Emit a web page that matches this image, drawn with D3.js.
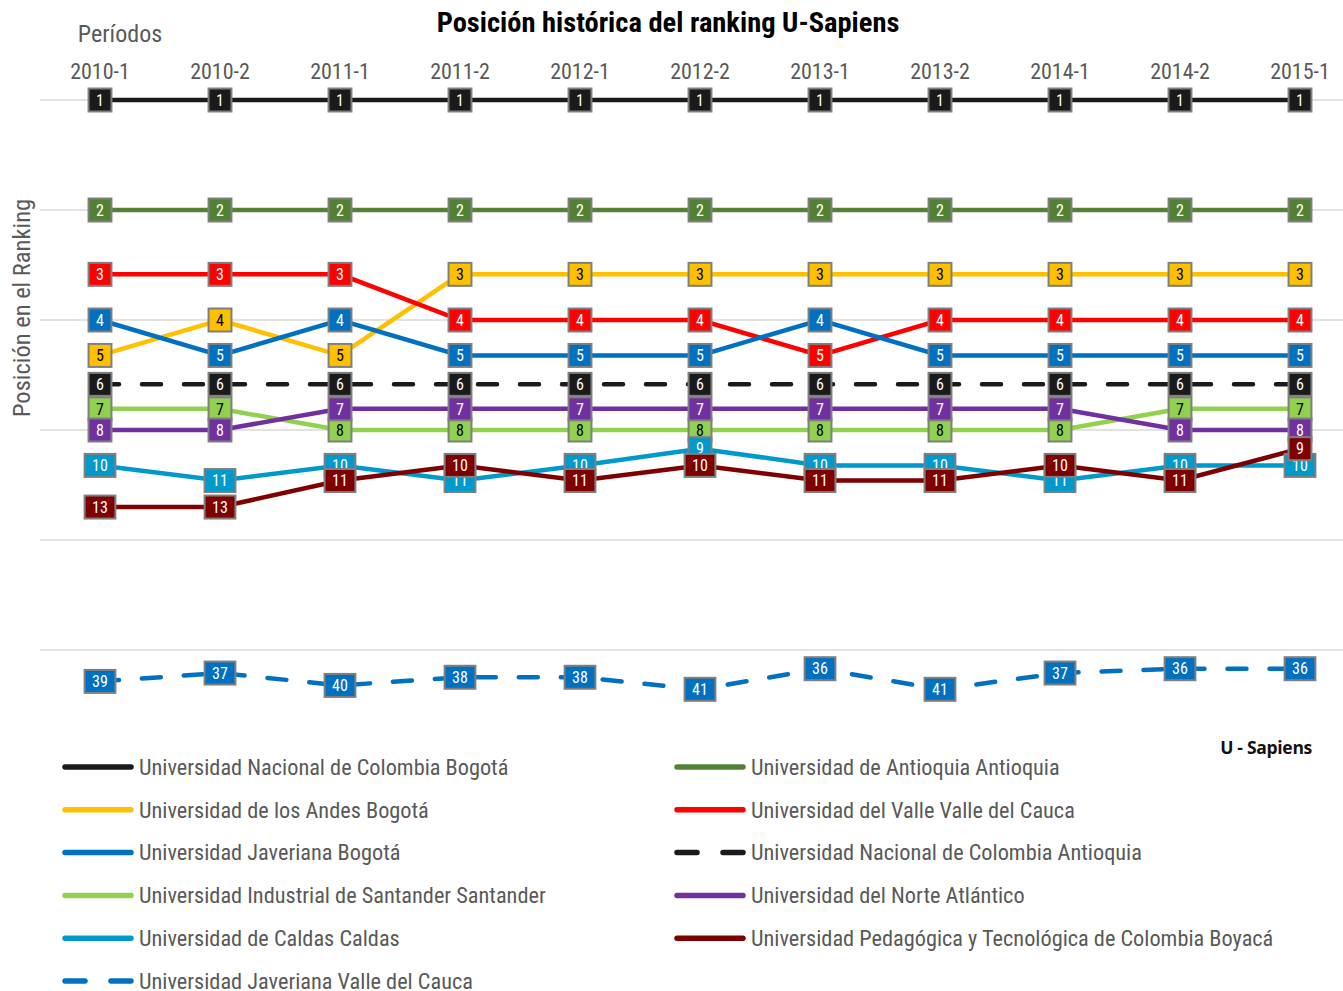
<!DOCTYPE html>
<html>
<head>
<meta charset="utf-8">
<script src="https://cdn.jsdelivr.net/npm/d3@7"></script>
<style>
  body { margin: 0; background: #fff; }
  svg text { font-family: "Liberation Sans Narrow", "Arial Narrow", "Roboto Condensed", Roboto, sans-serif; }
</style>
</head>
<body>
<div id="app"></div>
<script>
const WIDTH = 1343;
const HEIGHT = 991;

const periods = ['2010-1', '2010-2', '2011-1', '2011-2', '2012-1', '2012-2', '2013-1', '2013-2', '2014-1', '2014-2', '2015-1'];

const seriesNames = [
  'Universidad Nacional de Colombia Bogotá',
  'Universidad de Antioquia Antioquia',
  'Universidad de los Andes Bogotá',
  'Universidad del Valle Valle del Cauca',
  'Universidad Javeriana Bogotá',
  'Universidad Nacional de Colombia Antioquia',
  'Universidad Industrial de Santander Santander',
  'Universidad del Norte Atlántico',
  'Universidad de Caldas Caldas',
  'Universidad Pedagógica y Tecnológica de Colombia Boyacá',
  'Universidad Javeriana Valle del Cauca'
];

const nacionalBogota   = [1, 1, 1, 1, 1, 1, 1, 1, 1, 1, 1];
const antioquia        = [2, 2, 2, 2, 2, 2, 2, 2, 2, 2, 2];
const andes            = [5, 4, 5, 3, 3, 3, 3, 3, 3, 3, 3];
const valle            = [3, 3, 3, 4, 4, 4, 5, 4, 4, 4, 4];
const javerianaBogota  = [4, 5, 4, 5, 5, 5, 4, 5, 5, 5, 5];
const nacionalAntioquia = [6, 6, 6, 6, 6, 6, 6, 6, 6, 6, 6];
const industrial       = [7, 7, 8, 8, 8, 8, 8, 8, 8, 7, 7];
const norte            = [8, 8, 7, 7, 7, 7, 7, 7, 7, 8, 8];
const caldas           = [10, 11, 10, 11, 10, 9, 10, 10, 11, 10, 10];
const uptc             = [13, 13, 11, 10, 11, 10, 11, 11, 10, 11, 9];
const javerianaValle   = [39, 37, 40, 38, 38, 41, 36, 41, 37, 36, 36];

const seriesValues = [nacionalBogota, antioquia, andes, valle, javerianaBogota, nacionalAntioquia,
  industrial, norte, caldas, uptc, javerianaValle];
const seriesColors = ['#1a1a1a', '#548235', '#ffc000', '#ff0000', '#0070c0', '#1a1a1a',
  '#92d050', '#7030a0', '#0099cc', '#7f0000', '#0070c0'];
const labelColors = ['#fff', '#fff', '#000', '#fff', '#fff', '#fff', '#000', '#fff', '#fff', '#fff', '#fff'];
const dashed = [false, false, false, false, false, true, false, false, false, false, true];

const gridRanks = [1, 2, 4, 8, 16, 32];

const series = seriesNames.map((name, i) => ({
  name,
  values: seriesValues[i].map((v, j) => ({ period: periods[j], rank: v })),
  color: seriesColors[i],
  labelColor: labelColors[i],
  dashed: dashed[i]
}));

const svg = d3.select('#app')
  .append('svg')
    .attr('width', WIDTH)
    .attr('height', HEIGHT);

const x = d3.scaleBand()
  .domain(periods)
  .range([40, 1360]);
const cx = p => x(p) + x.bandwidth() / 2;

const y = d3.scaleLog()
  .base(2)
  .domain([1, 64])
  .range([100, 760]);

// title
svg.append('text')
  .attr('x', 668).attr('y', 32)
  .attr('text-anchor', 'middle')
  .attr('font-size', 28.5).attr('font-weight', 'bold')
  .attr('fill', '#000')
  .text('Posición histórica del ranking U-Sapiens');

svg.append('text')
  .attr('x', 120).attr('y', 42)
  .attr('text-anchor', 'middle')
  .attr('font-size', 24).attr('fill', '#595959')
  .text('Períodos');

svg.append('text')
  .attr('transform', 'translate(30, 308) rotate(-90)')
  .attr('text-anchor', 'middle')
  .attr('font-size', 24.5).attr('fill', '#595959')
  .text('Posición en el Ranking');

// gridlines
svg.append('g')
  .selectAll('line')
  .data(gridRanks)
  .enter()
    .append('line')
    .attr('x1', 40).attr('x2', 1360)
    .attr('y1', d => y(d)).attr('y2', d => y(d))
    .attr('stroke', '#d9d9d9')
    .attr('stroke-width', 1.5);

// x axis on top
const axis = d3.axisTop(x).tickSize(0).tickPadding(0);
const gAxis = svg.append('g')
  .attr('transform', 'translate(0, 79)')
  .call(axis);
gAxis.select('.domain').remove();
gAxis.selectAll('text')
  .attr('font-size', 22)
  .attr('fill', '#595959')
  .attr('font-family', null);

// lines
const line = d3.line()
  .x(d => cx(d.period))
  .y(d => y(d.rank));

svg.append('g')
  .selectAll('path')
  .data(series)
  .enter()
    .append('path')
    .attr('d', d => line(d.values))
    .attr('fill', 'none')
    .attr('stroke', d => d.color)
    .attr('stroke-width', 4.5)
    .attr('stroke-linecap', d => d.dashed ? 'round' : 'butt')
    .attr('stroke-dasharray', d => d.dashed ? '19,23' : null);

// markers (data labels with fill)
const marks = svg.append('g');
series.forEach(s => {
  s.values.forEach(v => {
    const g = marks.append('g')
      .attr('transform', `translate(${cx(v.period)}, ${y(v.rank)})`);
    const rect = g.append('rect');
    const t = g.append('text')
      .attr('text-anchor', 'middle')
      .attr('dy', '0.36em')
      .attr('font-size', 16)
      .attr('fill', s.labelColor)
      .text(v.rank);
    const w = t.node().getComputedTextLength() + 15;
    const h = 23;
    rect.attr('x', -w / 2).attr('y', -h / 2)
      .attr('width', w).attr('height', h)
      .attr('fill', s.color)
      .attr('stroke', '#7f7f7f')
      .attr('stroke-width', 2);
  });
});

// source tag
svg.append('text')
  .attr('x', 1312).attr('y', 754)
  .attr('text-anchor', 'end')
  .attr('font-size', 17.5).attr('font-weight', 'bold')
  .style('font-family', '"Open Sans", sans-serif')
  .style('letter-spacing', '-0.3px')
  .attr('fill', '#111')
  .text('U - Sapiens');

// legend
const legend = svg.append('g');
series.forEach((s, i) => {
  const col = i % 2;
  const row = Math.floor(i / 2);
  const lx = col === 0 ? 65 : 677;
  const ly = 767 + row * 42.8;
  legend.append('line')
    .attr('x1', lx).attr('x2', lx + 66)
    .attr('y1', ly).attr('y2', ly)
    .attr('stroke', s.color)
    .attr('stroke-width', 5.5)
    .attr('stroke-linecap', 'round')
    .attr('stroke-dasharray', s.dashed ? '20,26' : null);
  legend.append('text')
    .attr('x', lx + 74).attr('y', ly)
    .attr('dy', '0.35em')
    .attr('font-size', 22.3)
    .attr('fill', '#595959')
    .text(s.name);
});
</script>
</body>
</html>
